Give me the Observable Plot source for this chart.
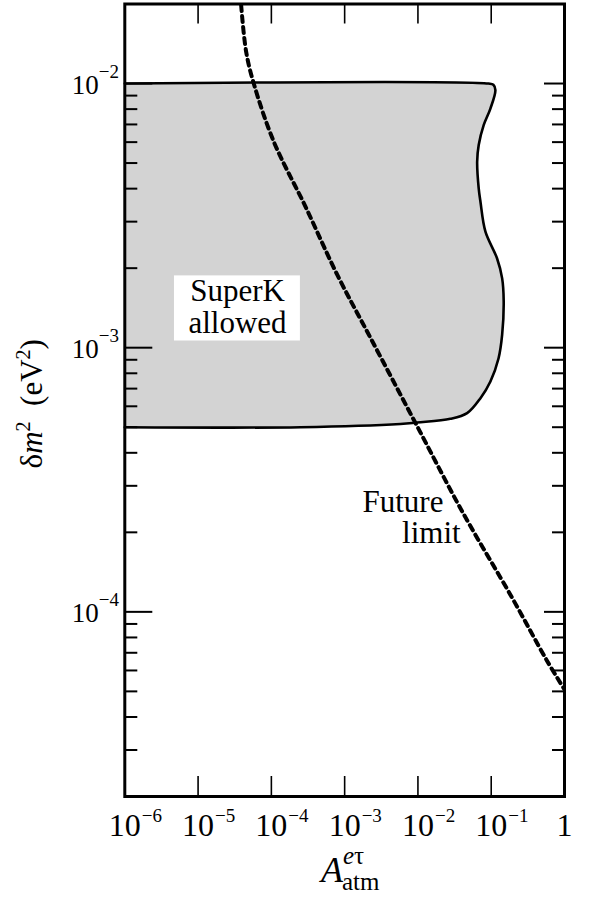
<!DOCTYPE html>
<html><head><meta charset="utf-8">
<script src="https://cdn.jsdelivr.net/npm/d3@7"></script>
<script src="https://cdn.jsdelivr.net/npm/@observablehq/plot@0.6"></script>
<style>
body{margin:0;background:#fff}
svg{display:block}
</style>
</head><body><div id="chart"></div>
<script>
// SuperK allowed region boundary (A_atm^{e tau}, delta m^2 in eV^2)
const regionA   = [1e-6, 0.0916, 0.107, 0.114, 0.0975, 0.0791, 0.0675, 0.0643, 0.0675, 0.0713, 0.0834, 0.120, 0.141, 0.148, 0.141, 0.126, 0.0975, 0.0713, 0.0469, 0.0277, 0.00975, 0.00577, 2.5e-4, 1e-6];
const regionDm2 = [1e-2, 1e-2, 9.89e-3, 9.44e-3, 8.04e-3, 6.97e-3, 5.85e-3, 5.06e-3, 4.01e-3, 3.57e-3, 2.75e-3, 2.18e-3, 1.83e-3, 1.50e-3, 1.12e-3, 9.12e-4, 7.45e-4, 6.44e-4, 5.65e-4, 5.38e-4, 5.21e-4, 5.14e-4, 5.0e-4, 5.0e-4];
// Future limit curve
const limitA   = [3.87e-5, 4.53e-5, 5.75e-5, 1.08e-4, 2.92e-4, 7.91e-4, 2.25e-3, 9.24e-3, 0.0401, 0.193, 0.579, 1];
const limitDm2 = [0.0198, 0.01318, 1e-2, 6.02e-3, 3.42e-3, 1.89e-3, 1.09e-3, 5.19e-4, 2.40e-4, 1.13e-4, 6.52e-5, 5.08e-5];
// ticks
const xTickValues = [1e-6, 1e-5, 1e-4, 1e-3, 1e-2, 1e-1, 1];
const xTickBase   = ["10", "10", "10", "10", "10", "10", "1"];
const xTickExp    = ["−6", "−5", "−4", "−3", "−2", "−1", ""];
const yMajorValues = [1e-4, 1e-3, 1e-2];
const yMajorExp    = ["−4", "−3", "−2"];
const yMinorValues = [2e-5,3e-5,4e-5,5e-5,6e-5,7e-5,8e-5,9e-5, 2e-4,3e-4,4e-4,5e-4,6e-4,7e-4,8e-4,9e-4, 2e-3,3e-3,4e-3,5e-3,6e-3,7e-3,8e-3,9e-3];

const W = 590, H = 900, mL = 124.3, mR = 26, mT = 3.5, mB = 104;
const plotW = W - mL - mR, plotH = H - mT - mB;
const region = regionA.map((a, i) => ({a, dm2: regionDm2[i]}));
const limit = limitA.map((a, i) => ({a, dm2: limitDm2[i]}));
const FONT = "Liberation Serif";

const chart = Plot.plot({
  width: W, height: H,
  marginLeft: mL, marginRight: mR, marginTop: mT, marginBottom: mB,
  style: {background: "white", color: "black", overflow: "visible"},
  x: {type: "log", domain: [1e-6, 1], axis: null},
  y: {type: "log", domain: [2e-5, 2e-2], axis: null},
  marks: [
    Plot.line(region, {x: "a", y: "dm2", fill: "#d3d3d3", stroke: "black", strokeWidth: 2.6, curve: "catmull-rom"}),
    Plot.rect([{x1: 4.76e-6, x2: 2.49e-4, y1: 1.06e-3, y2: 1.87e-3}], {x1: "x1", x2: "x2", y1: "y1", y2: "y2", fill: "white"}),
    Plot.text([{a: 3.45e-5, dm2: 1.50e-3, t: "SuperK"}, {a: 3.45e-5, dm2: 1.14e-3, t: "allowed"}],
      {x: "a", y: "dm2", text: "t", fontSize: 31, lineAnchor: "bottom", textAnchor: "middle", fill: "black"}),
    Plot.text([{a: 1.75e-3, dm2: 2.38e-4, t: "Future"}, {a: 6.08e-3, dm2: 1.82e-4, t: "limit"}],
      {x: "a", y: "dm2", text: "t", fontSize: 31, lineAnchor: "bottom", textAnchor: "start", fill: "black"}),
    Plot.line(limit, {x: "a", y: "dm2", stroke: "black", strokeWidth: 4, strokeDasharray: "6,5", curve: "catmull-rom", clip: true}),
    // x ticks bottom & top
    Plot.tickX(xTickValues.slice(1, -1), {x: d => d, stroke: "black", strokeWidth: 1.6, insetTop: plotH - 20}),
    Plot.tickX(xTickValues.slice(1, -1), {x: d => d, stroke: "black", strokeWidth: 1.6, insetBottom: plotH - 20}),
    // y ticks left & right
    Plot.tickY(yMajorValues, {y: d => d, stroke: "black", strokeWidth: 2, insetRight: plotW - 28}),
    Plot.tickY(yMinorValues, {y: d => d, stroke: "black", strokeWidth: 2, insetRight: plotW - 13}),
    Plot.tickY(yMajorValues, {y: d => d, stroke: "black", strokeWidth: 2, insetLeft: plotW - 20}),
    Plot.tickY(yMinorValues, {y: d => d, stroke: "black", strokeWidth: 2, insetLeft: plotW - 12}),
    Plot.frame({stroke: "black", strokeWidth: 3}),
    // x tick labels
    Plot.text(xTickValues, {x: d => d, frameAnchor: "bottom", text: (d, i) => xTickBase[i], dy: 39, lineAnchor: "bottom", textAnchor: "middle", fontSize: 32, fill: "black"}),
    Plot.text(xTickValues, {x: d => d, frameAnchor: "bottom", text: (d, i) => xTickExp[i], dx: 17, dy: 25, lineAnchor: "bottom", textAnchor: "start", fontSize: 19, fill: "black"}),
    // y tick labels
    Plot.text(yMajorValues, {y: d => d, frameAnchor: "left", text: () => "10", dx: -26, dy: 10, lineAnchor: "bottom", textAnchor: "end", fontSize: 27, fill: "black"}),
    Plot.text(yMajorValues, {y: d => d, frameAnchor: "left", text: (d, i) => yMajorExp[i], dx: -26, dy: -6, lineAnchor: "bottom", textAnchor: "start", fontSize: 19, fill: "black"})
  ]
});
document.getElementById("chart").appendChild(chart);

const svgEl = chart.tagName.toLowerCase() === "svg" ? chart : chart.querySelector("svg");
const svg = d3.select(svgEl);
// y axis title
const yt = svg.append("text")
  .attr("transform", `translate(42,${mT + plotH / 2 + 4}) rotate(-90)`)
  .attr("text-anchor", "middle").attr("font-size", 31).attr("fill", "black");
yt.append("tspan").text("δ");
yt.append("tspan").attr("font-style", "italic").text("m");
yt.append("tspan").attr("dy", -12).attr("font-size", 20).text("2");
yt.append("tspan").attr("dy", 12).text("\u2002(eV");
yt.append("tspan").attr("dy", -12).attr("font-size", 20).text("2");
yt.append("tspan").attr("dy", 12).text(")");
// x axis title
const cx = 343;
svg.append("text").attr("x", cx).attr("y", 882).attr("text-anchor", "end")
  .attr("font-size", 36).attr("font-style", "italic").attr("fill", "black").text("A");
const sup = svg.append("text").attr("x", cx).attr("y", 864).attr("text-anchor", "start")
  .attr("font-size", 25).attr("fill", "black");
sup.append("tspan").attr("font-style", "italic").text("e");
sup.append("tspan").text("τ");
svg.append("text").attr("x", cx - 1).attr("y", 890).attr("text-anchor", "start")
  .attr("font-size", 25).attr("fill", "black").text("atm");
// force the serif family on the svg and every text element (inline !important)
function forceFont() {
  svgEl.setAttribute("font-family", FONT);
  svgEl.style.setProperty("font-family", `"${FONT}", serif`, "important");
  svgEl.querySelectorAll("g, text, tspan").forEach(el => {
    el.setAttribute("font-family", FONT);
    el.style.setProperty("font-family", `"${FONT}", serif`, "important");
  });
}
forceFont();
requestAnimationFrame(forceFont);
setTimeout(forceFont, 50);
</script>
</body></html>
